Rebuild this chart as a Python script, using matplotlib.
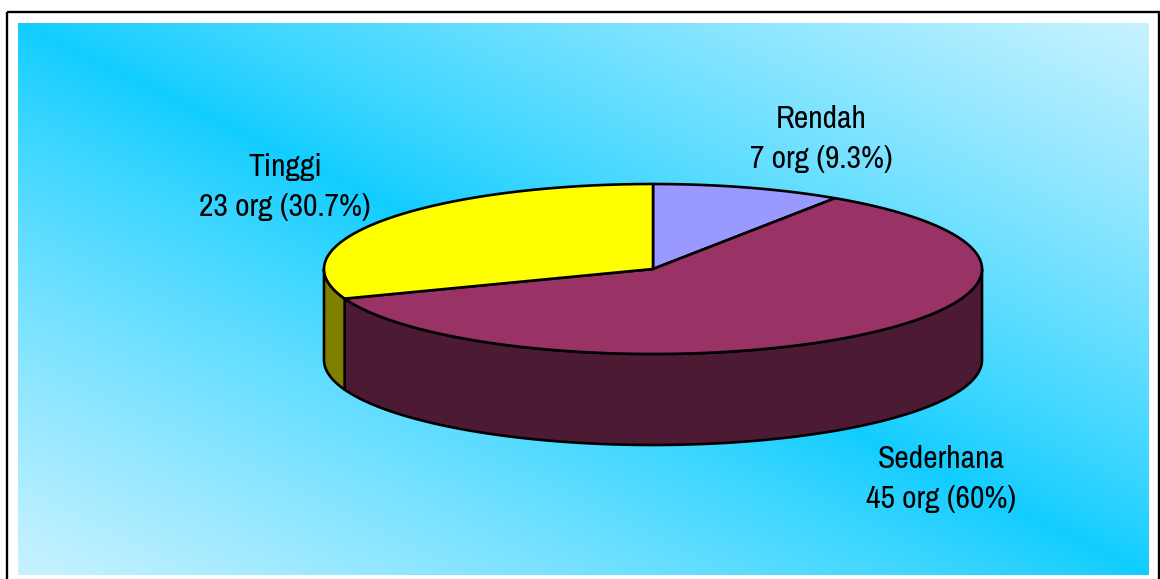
import numpy as np
import matplotlib
matplotlib.use("Agg")
import matplotlib.pyplot as plt
from matplotlib.patches import Rectangle

# Data
categories = ["Rendah", "Sederhana", "Tinggi"]
counts = [7, 45, 23]
percent_labels = ["7 org (9.3%)", "45 org (60%)", "23 org (30.7%)"]

top_colors = ["#9999FF", "#993366", "#FFFF00"]
side_colors = ["#4D4D80", "#4D1A33", "#808000"]

# Layout in pixels
W, H = 1160, 579
cx, cy = 653, 269
rx, ry = 329, 85
depth = 91
label_pos = [(821, 128), (941, 468), (285, 176)]
line_gap = 40

plt.rcParams["font.family"] = ["Archivo Narrow", "Liberation Sans", "DejaVu Sans"]

fig = plt.figure(figsize=(W / 100, H / 100), dpi=100, facecolor="white")
ax = fig.add_axes([0, 0, 1, 1])

# Background gradient, cyan along the diagonal and pale in the other corners
x0, x1, y0, y1 = 18, 1149, 23, 575
xx, yy = np.meshgrid(np.linspace(0, 1, 400), np.linspace(0, 1, 200))
t = np.abs(xx - yy) ** 0.85
cyan = np.array([16, 205, 255]) / 255
pale = np.array([200, 242, 255]) / 255
img = cyan + (pale - cyan) * t[..., None]
ax.imshow(img, extent=(x0, x1, y1, y0), aspect="auto", zorder=0, interpolation="bilinear")
ax.set_xlim(0, W)
ax.set_ylim(H, 0)
ax.axis("off")

# Outer frame, its bottom edge runs off the picture
ax.add_patch(Rectangle((7, 12), 1152.3, 600, fill=False, ec="black", lw=1.7, zorder=1))


def px(a):
    return cx + rx * np.sin(a)


def py(a):
    return cy - ry * np.cos(a)


# Slice angles, clockwise from 12 o'clock
fracs = np.array(counts) / sum(counts)
edges = np.concatenate([[0], np.cumsum(fracs)]) * 2 * np.pi
lw = 1.9

# Side walls, only the front half of the ellipse shows
for i in range(len(counts)):
    a = max(edges[i], np.pi / 2)
    b = min(edges[i + 1], 3 * np.pi / 2)
    if a >= b:
        continue
    arc = np.linspace(a, b, 200)
    xs = np.concatenate([px(arc), px(arc[::-1])])
    ys = np.concatenate([py(arc), py(arc[::-1]) + depth])
    ax.fill(xs, ys, fc=side_colors[i], ec="black", lw=lw, joinstyle="round", zorder=2)

# Top faces
for i in range(len(counts)):
    arc = np.linspace(edges[i], edges[i + 1], 300)
    xs = np.concatenate([[cx], px(arc)])
    ys = np.concatenate([[cy], py(arc)])
    ax.fill(xs, ys, fc=top_colors[i], ec="black", lw=lw, joinstyle="round", zorder=3)

# Labels
for i in range(len(counts)):
    lx, ly = label_pos[i]
    ax.text(lx, ly, categories[i], ha="center", va="baseline", fontsize=22.8, color="black", zorder=4)
    ax.text(lx, ly + line_gap, percent_labels[i], ha="center", va="baseline", fontsize=22.8,
            color="black", zorder=4)

fig.savefig("out.png", dpi=100, facecolor="white")
